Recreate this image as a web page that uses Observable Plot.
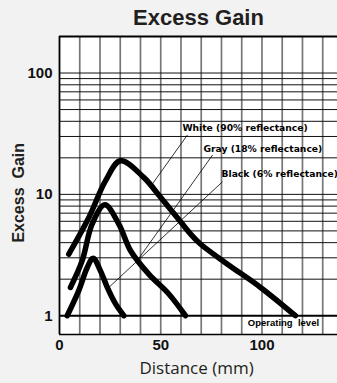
<!DOCTYPE html>
<html>
<head>
<meta charset="utf-8">
<script src="https://cdn.jsdelivr.net/npm/d3@7"></script>
<script src="https://cdn.jsdelivr.net/npm/@observablehq/plot@0.6"></script>
<style>
  html, body { margin: 0; padding: 0; background: #f2f2f2; overflow: hidden; }
  #chart { width: 337px; height: 383px; }
</style>
</head>
<body>
<div id="chart"></div>
<script>
// ---- data ----
const title = "Excess Gain";
const xLabel = "Distance (mm)";
const yLabel = "Excess\u00a0\u00a0Gain";
const xTicks = [0, 50, 100];
const yTicks = [1, 10, 100];
const xGrid = [10, 20, 30, 40, 50, 60, 70, 80, 90, 100, 110, 120, 130];
const yGrid = [2, 3, 4, 5, 6, 7, 8, 9, 10, 20, 30, 40, 50, 60, 70, 80, 90, 100];

const seriesNames = ["White (90% reflectance)", "Gray (18% reflectance)", "Black (6% reflectance)"];
const whiteX = [4.6, 14.5, 22.7, 30.1, 41.6, 49.9, 58.1, 64.7, 69.6, 82.8, 99.3, 116.5];
const whiteY = [3.22, 6.44, 12.9, 18.9, 13.8, 9.45, 6.46, 4.72, 3.9, 2.67, 1.71, 1];
const grayX = [5.4, 11.2, 16.1, 22.4, 29.3, 35.1, 44.1, 54.0, 62.2];
const grayY = [1.71, 2.84, 5.69, 8.2, 5.69, 3.43, 2.2, 1.51, 1];
const blackX = [3.8, 9.5, 13.7, 16.6, 20.2, 23.6, 27.7, 31.8];
const blackY = [1, 1.61, 2.5, 2.98, 2.35, 1.71, 1.25, 1];

// label anchor positions (data coords) and leader line ends
const labelX = [60.7, 71.1, 80];
const labelY = [35.3, 23.7, 14.7];
const leaderX1 = [63.2, 75.6, 80.5];
const leaderY1 = [30.9, 21.1, 12.7];
const leaderX2 = [45.9, 39.0, 24.2];
const leaderY2 = [12.2, 2.94, 1.70];

const operatingText = "Operating\u00a0\u00a0level";
const operatingX = 93;
const operatingLevel = 1;

// axis-title anchor positions (data coords, outside the frame)
const yLabelPos = {x: -20.3, y: 10.3};
const xLabelX = 67.7;

// ---- build tables ----
const curves = [
  ...whiteX.map((x, i) => ({s: seriesNames[0], x, y: whiteY[i]})),
  ...grayX.map((x, i) => ({s: seriesNames[1], x, y: grayY[i]})),
  ...blackX.map((x, i) => ({s: seriesNames[2], x, y: blackY[i]}))
];
const labels = seriesNames.map((name, i) => ({
  name, x: labelX[i], y: labelY[i],
  x1: leaderX1[i], y1: leaderY1[i], x2: leaderX2[i], y2: leaderY2[i]
}));

const plot = Plot.plot({
  width: 337,
  height: 383,
  marginLeft: 59,
  marginRight: 0,
  marginTop: 36,
  marginBottom: 49,
  style: {background: "transparent", fontFamily: "'Liberation Sans', Arial, sans-serif", overflow: "hidden"},
  x: {domain: [0, 137.3]},
  y: {type: "log", domain: [0.7, 200]},
  marks: [
    Plot.frame({fill: "white", stroke: null}),
    Plot.ruleX(xGrid, {stroke: "#777", strokeWidth: 1.7}),
    Plot.ruleY(yGrid, {stroke: "#111", strokeWidth: 1}),
    Plot.ruleY([operatingLevel], {stroke: "#000", strokeWidth: 2}),
    Plot.ruleX([0], {stroke: "#000", strokeWidth: 1.8}),
    Plot.ruleY([200], {stroke: "#000", strokeWidth: 1.8}),
    Plot.ruleY([0.7], {stroke: "#000", strokeWidth: 1.6}),
    Plot.link(labels, {x1: "x1", y1: "y1", x2: "x2", y2: "y2", stroke: "#000", strokeWidth: 0.8}),
    Plot.line(curves, {x: "x", y: "y", z: "s", stroke: "#000", strokeWidth: 5.5,
      curve: "catmull-rom", strokeLinecap: "round", strokeLinejoin: "round"}),
    Plot.text(labels, {x: "x", y: "y", text: "name", textAnchor: "start",
      fontFamily: "'DejaVu Sans', sans-serif", fontWeight: "bold", fontSize: 9.2, fill: "#000"}),
    Plot.text([operatingText], {x: [operatingX], y: [operatingLevel], text: d => d, textAnchor: "start",
      dy: 7, fontWeight: "bold", fontSize: 9.5, fill: "#000"}),
    Plot.axisY(yTicks, {tickSize: 0, tickPadding: 7, tickFormat: d => String(d), fontSize: 15,
      fontWeight: "bold", label: null, fill: "#111"}),
    Plot.axisX(xTicks, {tickSize: 0, tickPadding: 5, tickFormat: d => String(d), fontSize: 15,
      fontWeight: "bold", label: null, fill: "#111"}),
    Plot.text([title], {frameAnchor: "top", dy: -19, lineAnchor: "middle", fontSize: 22,
      fontWeight: "bold", fill: "#231f20", letterSpacing: 1}),
    Plot.text([yLabel], {x: [yLabelPos.x], y: [yLabelPos.y], rotate: -90, lineAnchor: "middle",
      fontSize: 16, fontWeight: "bold", fill: "#231f20", letterSpacing: 1.6}),
    Plot.text([xLabel], {x: [xLabelX], frameAnchor: "bottom", dy: 34, lineAnchor: "middle",
      fontFamily: "'Open Sans', sans-serif", fontSize: 17, fill: "#231f20"})
  ]
});
document.getElementById("chart").appendChild(plot);
</script>
</body>
</html>
